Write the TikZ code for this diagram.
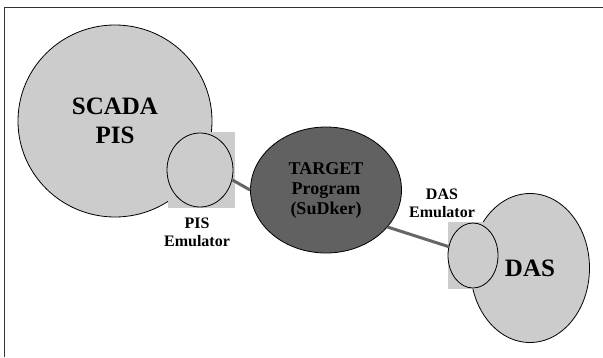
\documentclass[tikz,border=0pt]{standalone}
\usepackage{fontspec}
\setmainfont{Liberation Serif}
\usetikzlibrary{shapes.geometric,positioning}

\begin{document}
\begin{tikzpicture}[x=1pt,y=-1pt,
    blob/.style={ellipse,draw,thick,fill=black!20,inner sep=0pt,align=center,
        font=\bfseries\fontsize{25}{29}\selectfont},
    emu/.style={ellipse,draw,thick,fill=black!20,inner sep=0pt},
    emubox/.style={rectangle,fill=black!20,inner sep=0pt},
    emulabel/.style={align=center,font=\bfseries\fontsize{16}{18}\selectfont},
    link/.style={line width=3pt,draw=black!60}]

    \useasboundingbox (0,0) rectangle (603,357);
    \draw [black!80] (4,357) -- (4,7) -- (603,7);

    \node [blob,minimum width=194pt,minimum height=192pt] (scada) at (115,121) {SCADA\\PIS};
    \node [emubox,minimum width=67pt,minimum height=76pt] (pisbox) at (201.5,170) {};
    \node [emu,minimum width=66pt,minimum height=74pt] (pisemu) at (200,170) {};
    \node [emulabel] (pislabel) at (197,232) {PIS\\Emulator};

    \node [blob,minimum width=119pt,minimum height=149pt] (das) at (530,268) {DAS};
    \node [emubox,minimum width=51pt,minimum height=67pt] (dasbox) at (473,255) {};
    \node [emu,minimum width=50pt,minimum height=65pt] (dasemu) at (473,255.5) {};
    \node [emulabel] (daslabel) at (442,203) {DAS\\Emulator};

    \node [blob,fill=black!62,text=black,minimum width=151pt,minimum height=126pt,
        font=\bfseries\fontsize{18}{20}\selectfont] (target) at (326,190) {TARGET\\Program\\(SuDker)};

    \draw [link] (pisemu.-17) -- (target.west);
    \draw [link] (target.-31) -- (dasemu.160);
\end{tikzpicture}
\end{document}
